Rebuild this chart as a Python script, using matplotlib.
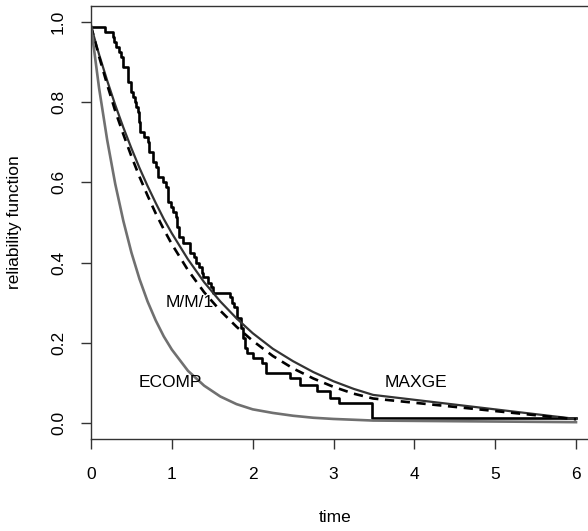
import numpy as np
import matplotlib
matplotlib.use("Agg")
import matplotlib.pyplot as plt

plt.rcParams['font.family'] = ['Liberation Sans', 'DejaVu Sans']

# empirical reliability (step function), value after each time
step_t = [0.00, 0.17, 0.27, 0.29, 0.31, 0.35, 0.37, 0.39, 0.46, 0.50, 0.52, 0.54,
          0.56, 0.58, 0.59, 0.60, 0.66, 0.70, 0.72, 0.77, 0.81, 0.83, 0.89, 0.93,
          0.95, 0.99, 1.01, 1.05, 1.07, 1.09, 1.14, 1.22, 1.28, 1.30, 1.33, 1.37,
          1.39, 1.45, 1.49, 1.51, 1.72, 1.74, 1.77, 1.80, 1.85, 1.88, 1.91, 1.93,
          2.00, 2.11, 2.17, 2.46, 2.59, 2.79, 2.96, 3.07, 3.48, 6.00]
step_s = [0.988, 0.975, 0.963, 0.950, 0.938, 0.925, 0.913, 0.888, 0.850, 0.825, 0.813, 0.800,
          0.788, 0.775, 0.750, 0.725, 0.713, 0.700, 0.675, 0.650, 0.638, 0.613, 0.600, 0.588,
          0.550, 0.538, 0.525, 0.513, 0.488, 0.463, 0.450, 0.425, 0.413, 0.400, 0.388, 0.375,
          0.363, 0.350, 0.338, 0.325, 0.313, 0.300, 0.288, 0.263, 0.238, 0.213, 0.188, 0.175,
          0.163, 0.150, 0.125, 0.113, 0.094, 0.079, 0.063, 0.050, 0.0125, 0.0125]

t_model = [0.0, 0.1, 0.2, 0.3, 0.4, 0.5, 0.6, 0.7, 0.8, 0.9, 1.0, 1.2, 1.4, 1.6,
           1.8, 2.0, 2.25, 2.5, 2.75, 3.0, 3.25, 3.49, 6.0]
mm1 = [0.990, 0.919, 0.854, 0.793, 0.737, 0.685, 0.636, 0.591, 0.549, 0.509, 0.473,
       0.408, 0.351, 0.303, 0.261, 0.224, 0.185, 0.154, 0.127, 0.104, 0.085, 0.070, 0.010]
maxge = [0.990, 0.914, 0.844, 0.778, 0.720, 0.665, 0.614, 0.567, 0.523, 0.483, 0.446,
         0.381, 0.326, 0.280, 0.240, 0.205, 0.167, 0.136, 0.111, 0.090, 0.073, 0.061, 0.009]
ecomp = [0.990, 0.835, 0.706, 0.596, 0.504, 0.425, 0.359, 0.303, 0.256, 0.216, 0.183,
         0.130, 0.093, 0.066, 0.047, 0.034, 0.025, 0.018, 0.013, 0.010, 0.008, 0.006, 0.002]

W, H = 588, 531
fig = plt.figure(figsize=(W / 100, H / 100), dpi=100)
ax = fig.add_axes([91 / W, 1 - 439 / H, (W - 91) / W, (439 - 6) / H])

ax.step(step_t, step_s, where='post', color='black', lw=1.9)
ax.plot(t_model, mm1, color='#333333', lw=1.6)
ax.plot(t_model, maxge, color='black', lw=1.9, linestyle=(0, (3.5, 2.5)))
ax.plot(t_model, ecomp, color='#707070', lw=1.9)

ax.text(1.22, 0.30, 'M/M/1', ha='center', va='center', fontsize=12.5)
ax.text(0.98, 0.10, 'ECOMP', ha='center', va='center', fontsize=12.5)
ax.text(4.02, 0.10, 'MAXGE', ha='center', va='center', fontsize=12.5)

ax.set_xlim(0, 6 * (W - 91) / (576 - 91))
ax.set_ylim(-0.04, 1.04)
ax.set_xticks([0, 1, 2, 3, 4, 5, 6])
ax.set_yticks([0.0, 0.2, 0.4, 0.6, 0.8, 1.0])
ax.set_yticklabels(['0.0', '0.2', '0.4', '0.6', '0.8', '1.0'], rotation=90, va='center')

for side in ['left', 'bottom', 'top']:
    ax.spines[side].set_color('#333333')
    ax.spines[side].set_linewidth(1.0)
ax.spines['right'].set_visible(False)
ax.tick_params(axis='both', length=7, width=1.0, color='#333333', labelsize=12.5)
ax.tick_params(axis='x', pad=13)
ax.tick_params(axis='y', pad=11)

ax.set_xlabel('time', fontsize=12.5)
ax.xaxis.set_label_coords((335 - 91) / (W - 91), -(517 - 439) / (439 - 6))
ax.set_ylabel('reliability function', fontsize=12.5)
ax.yaxis.set_label_coords(-(91 - 15) / (W - 91), 0.5)
ax.xaxis.label.set_va('center')
ax.yaxis.label.set_va('center')

fig.savefig('out.png', dpi=100)
